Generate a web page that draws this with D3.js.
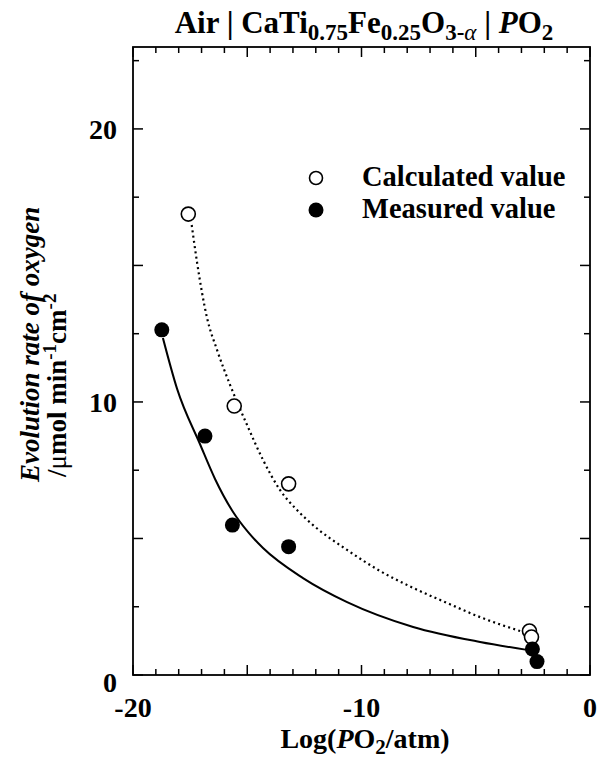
<!DOCTYPE html>
<html>
<head>
<meta charset="utf-8">
<script src="https://d3js.org/d3.v7.min.js"></script>
<style>
body { margin: 0; background: #fff; }
svg text { font-family: "Liberation Serif", "Times New Roman", serif; font-weight: bold; fill: #000; }
.frame { fill: none; stroke: #000; stroke-width: 1.8; }
</style>
</head>
<body>
<svg width="605" height="765"></svg>
<script>
// measured points (filled) and calculated points (open)
var calcX = [-17.58, -15.57, -13.19, -2.65, -2.56];
var calcY = [16.88, 9.85, 7.0, 1.61, 1.39];
var measX = [-18.74, -16.85, -15.65, -13.19, -2.52, -2.32];
var measY = [12.64, 8.75, 5.49, 4.70, 0.95, 0.49];

// fitted curves
var calcFitX = [-17.43, -17.20, -16.76, -16.32, -15.75, -15.01, -14.31, -13.57, -12.82, -12.12, -10.63, -9.19, -7.74, -6.26, -4.81, -3.06];
var calcFitY = [16.48, 15.13, 13.08, 11.90, 10.62, 9.16, 7.88, 6.78, 6.04, 5.49, 4.58, 3.81, 3.19, 2.64, 2.12, 1.61];
var measFitX = [-18.69, -18.07, -17.07, -16.41, -15.62, -14.97, -14.31, -12.56, -10.63, -7.74, -4.81, -2.76];
var measFitY = [12.34, 10.48, 8.46, 7.18, 5.97, 5.24, 4.65, 3.55, 2.67, 1.76, 1.21, 0.92];

var xTickLabels = [-20, -10, 0];
var yTickLabels = [0, 10, 20];
var legendLabels = ["Calculated value", "Measured value"];

var svg = d3.select("svg"),
    margin = {top: 47, right: 15, bottom: 90, left: 133},
    width = +svg.attr("width") - margin.left - margin.right,
    height = +svg.attr("height") - margin.top - margin.bottom;

var x = d3.scaleLinear().domain([-20, 0]).range([0, width]);
var y = d3.scaleLinear().domain([0, 23]).range([height, 0]);

var g = svg.append("g")
    .attr("transform", "translate(" + margin.left + "," + margin.top + ")");

// ticks on all four sides, pointing inward
function tickLen(v, step) { return Math.abs(v % step) < 1e-6 ? 10 : 6; }
var xTicks = d3.range(-20, 0.001, 1);
var yTicks = d3.range(0, 23, 2.5);

g.selectAll(".xb").data(xTicks).enter().append("line")
    .attr("class", "xb")
    .attr("x1", function(d) { return x(d); }).attr("x2", function(d) { return x(d); })
    .attr("y1", height).attr("y2", function(d) { return height - tickLen(d, 5); })
    .attr("stroke", "#000").attr("stroke-width", 1.5);
g.selectAll(".xt").data(xTicks).enter().append("line")
    .attr("class", "xt")
    .attr("x1", function(d) { return x(d); }).attr("x2", function(d) { return x(d); })
    .attr("y1", 0).attr("y2", function(d) { return tickLen(d, 5); })
    .attr("stroke", "#000").attr("stroke-width", 1.5);
g.selectAll(".yl").data(yTicks).enter().append("line")
    .attr("class", "yl")
    .attr("y1", function(d) { return y(d); }).attr("y2", function(d) { return y(d); })
    .attr("x1", 0).attr("x2", function(d) { return tickLen(d, 5); })
    .attr("stroke", "#000").attr("stroke-width", 1.5);
g.selectAll(".yr").data(yTicks).enter().append("line")
    .attr("class", "yr")
    .attr("y1", function(d) { return y(d); }).attr("y2", function(d) { return y(d); })
    .attr("x1", width).attr("x2", function(d) { return width - tickLen(d, 5); })
    .attr("stroke", "#000").attr("stroke-width", 1.5);

g.append("rect").attr("class", "frame")
    .attr("width", width).attr("height", height);

// tick labels
g.selectAll(".xlab").data(xTickLabels).enter().append("text")
    .attr("x", function(d) { return x(d); })
    .attr("y", height + 42)
    .attr("text-anchor", "middle")
    .style("font-size", "28px")
    .text(function(d) { return d; });
g.selectAll(".ylab").data(yTickLabels).enter().append("text")
    .attr("x", -16)
    .attr("y", function(d) { return y(d) + 10 + (d === 0 ? 7 : 0); })
    .attr("text-anchor", "end")
    .style("font-size", "28px")
    .text(function(d) { return d; });

// curves
var lineCalc = d3.line().curve(d3.curveMonotoneX)
    .x(function(d, i) { return x(calcFitX[i]); })
    .y(function(d, i) { return y(calcFitY[i]); });
var lineMeas = d3.line().curve(d3.curveMonotoneX)
    .x(function(d, i) { return x(measFitX[i]); })
    .y(function(d, i) { return y(measFitY[i]); });

g.append("path").datum(calcFitX)
    .attr("d", lineCalc)
    .attr("fill", "none").attr("stroke", "#000")
    .attr("stroke-width", 2.2).attr("stroke-dasharray", "2,3.3");
g.append("path").datum(measFitX)
    .attr("d", lineMeas)
    .attr("fill", "none").attr("stroke", "#000")
    .attr("stroke-width", 2);

// points
g.selectAll(".calc").data(calcX).enter().append("circle")
    .attr("cx", function(d) { return x(d); })
    .attr("cy", function(d, i) { return y(calcY[i]); })
    .attr("r", 7)
    .attr("fill", "#fff").attr("stroke", "#000").attr("stroke-width", 1.6);
g.selectAll(".meas").data(measX).enter().append("circle")
    .attr("cx", function(d) { return x(d); })
    .attr("cy", function(d, i) { return y(measY[i]); })
    .attr("r", 7.5)
    .attr("fill", "#000");

// legend
var leg = svg.append("g").attr("transform", "translate(316,178)");
leg.append("circle").attr("r", 6.5).attr("fill", "#fff").attr("stroke", "#000").attr("stroke-width", 1.6);
leg.append("circle").attr("cy", 32).attr("r", 7.5).attr("fill", "#000");
leg.selectAll("text").data(legendLabels).enter().append("text")
    .attr("x", 46)
    .attr("y", function(d, i) { return 8 + i * 32; })
    .style("font-size", "28.5px")
    .text(function(d) { return d; });

// title
var title = svg.append("text")
    .attr("x", 364).attr("y", 33)
    .attr("text-anchor", "middle")
    .style("font-size", "31px");
title.append("tspan").text("Air | CaTi");
title.append("tspan").attr("dy", 7).style("font-size", "23px").text("0.75");
title.append("tspan").attr("dy", -7).text("Fe");
title.append("tspan").attr("dy", 7).style("font-size", "23px").text("0.25");
title.append("tspan").attr("dy", -7).text("O");
title.append("tspan").attr("dy", 7).style("font-size", "23px").text("3-");
title.append("tspan").style("font-size", "23px").style("font-style", "italic").style("font-weight", "normal").text("\u03b1");
title.append("tspan").attr("dy", -7).text(" | ");
title.append("tspan").style("font-style", "italic").text("P");
title.append("tspan").text("O");
title.append("tspan").attr("dy", 7).style("font-size", "23px").text("2");

// x axis label
var xl = svg.append("text")
    .attr("x", 365).attr("y", 748)
    .attr("text-anchor", "middle")
    .style("font-size", "28px");
xl.append("tspan").text("Log(");
xl.append("tspan").style("font-style", "italic").text("P");
xl.append("tspan").text("O");
xl.append("tspan").attr("dy", 6).style("font-size", "21px").text("2");
xl.append("tspan").attr("dy", -6).text("/atm)");

// y axis label, two lines
svg.append("text")
    .attr("transform", "translate(39,482) rotate(-90)")
    .style("font-size", "27px").style("font-style", "italic")
    .text("Evolution rate of oxygen");
var yl2 = svg.append("text")
    .attr("transform", "translate(66,477) rotate(-90)")
    .style("font-size", "27px");
yl2.append("tspan").text("/");
yl2.append("tspan").style("font-weight", "normal").text("\u03bc");
yl2.append("tspan").text("mol min");
yl2.append("tspan").attr("dy", -10).style("font-size", "19px").text("-1");
yl2.append("tspan").attr("dy", 10).text("cm");
yl2.append("tspan").attr("dy", -10).style("font-size", "19px").text("-2");
</script>
</body>
</html>
